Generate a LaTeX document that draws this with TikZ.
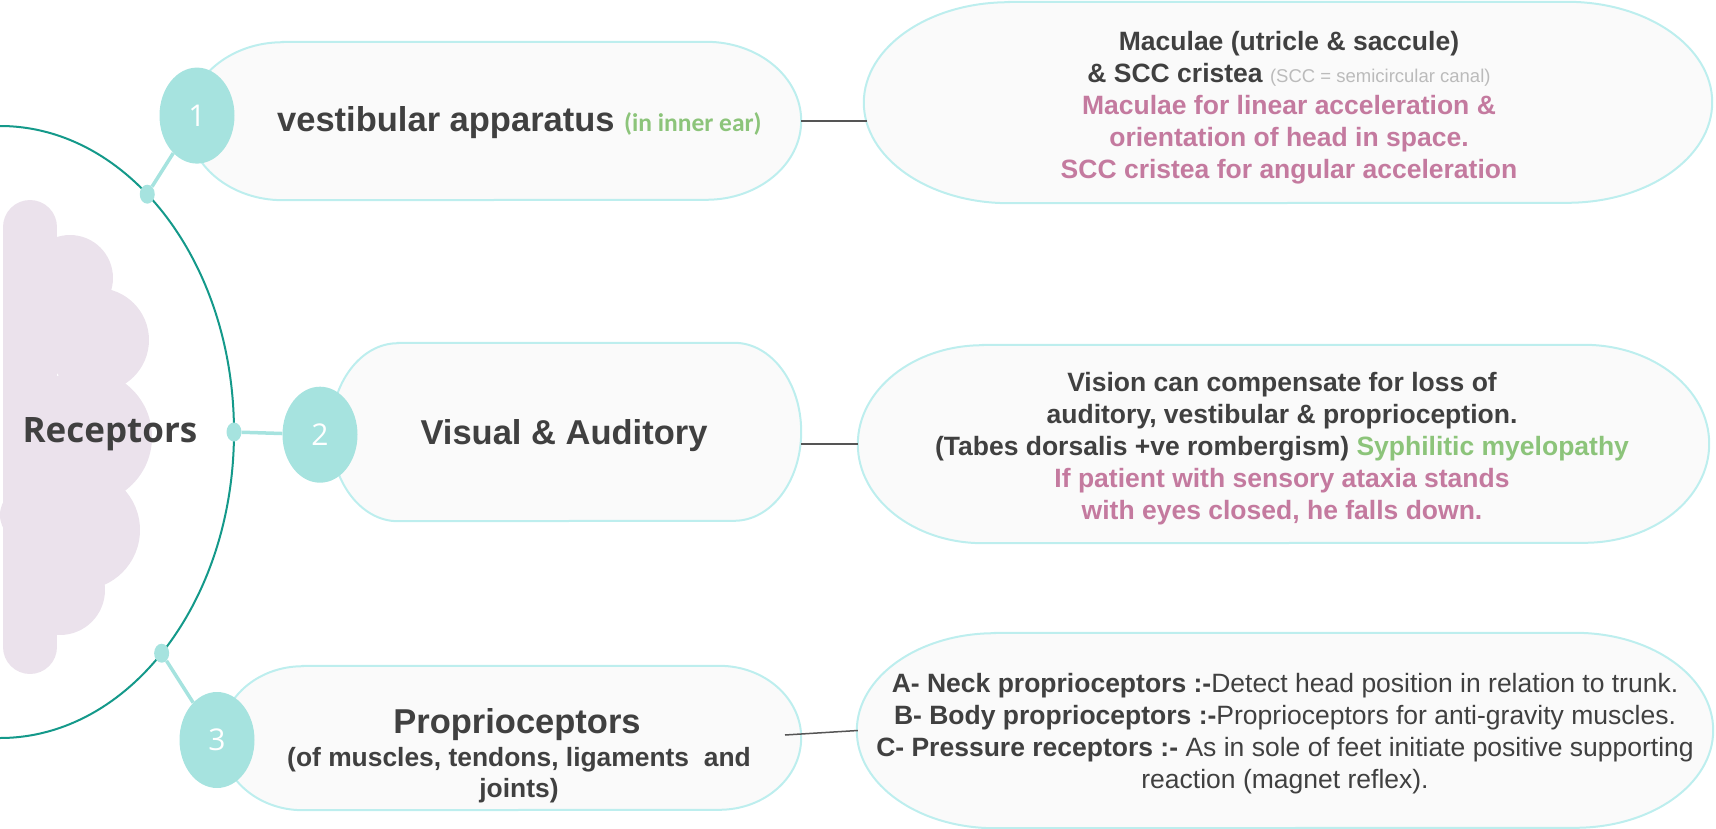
\documentclass[tikz,border=0pt]{standalone}
\usepackage{fontspec}
\setmainfont{Liberation Sans}
\newfontfamily\carlito{Carlito}
\newfontfamily\opensans{Open Sans}
\usetikzlibrary{shapes.geometric}
\definecolor{tealarc}{HTML}{14998A}
\definecolor{numfill}{HTML}{A6E3DF}
\definecolor{pillline}{HTML}{BDEEEE}
\definecolor{pillfill}{HTML}{FAFAFA}
\definecolor{txt}{HTML}{404040}
\definecolor{pinktxt}{HTML}{C47A9F}
\definecolor{greentxt}{HTML}{8CC47A}
\definecolor{graytxt}{HTML}{BBBBBB}
\definecolor{cloudc}{HTML}{EBE2EC}
\definecolor{linkc}{HTML}{555555}
\newcommand\pillshape[3]{%
  \filldraw[pillstyle] ([xshift=#2pt]#1.north west) -- ([xshift=-#2pt]#1.north east)
    arc[start angle=90,end angle=-90,x radius=#2pt,y radius=#3pt]
    -- ([xshift=#2pt]#1.south west)
    arc[start angle=270,end angle=90,x radius=#2pt,y radius=#3pt] -- cycle;}
\begin{document}
\begin{tikzpicture}[x=1pt,y=1pt,
  pillstyle/.style={draw=pillline, fill=pillfill, line width=2pt},
  pillbox/.style={rectangle, draw=none, inner sep=0pt},
  numcirc/.style={ellipse, fill=numfill, inner sep=0pt, minimum width=75pt, minimum height=96pt, text=white, font=\opensans\fontsize{30}{30}\selectfont},
  joindot/.style={ellipse, fill=numfill, inner sep=0pt, minimum width=15pt, minimum height=19pt},
  spoke/.style={draw=numfill, line width=3.5pt},
  link/.style={draw=linkc, line width=1.5pt},
  bigtxt/.style={text=txt, inner sep=0pt, font=\bfseries\fontsize{34.5}{40}\selectfont},
  bodytxt/.style={text=txt, inner sep=0pt, align=center, font=\bfseries\fontsize{26.5}{32}\selectfont},
  ]
\useasboundingbox (0,0) rectangle (1716,-829);
% cloud
\fill[cloudc] (3,-227) rectangle (57,-647);
\fill[cloudc] (30,-227) circle[radius=27pt];
\fill[cloudc] (30,-647) circle[radius=27pt];
\fill[cloudc] (70,-278) circle[radius=43pt];
\fill[cloudc] (97,-340) circle[radius=52pt];
\fill[cloudc] (85,-437) circle[radius=67pt];
\fill[cloudc] (80,-530) circle[radius=60pt];
\fill[cloudc] (60,-590) circle[radius=45pt];
\fill[cloudc] (28,-515) circle[radius=28pt];
\node[text=txt, inner sep=0pt, anchor=base, font=\opensans\bfseries\fontsize{35}{35}\selectfont] (rec) at (110,-442) {Receptors};
% arc
\draw[tealarc, line width=2pt] (0,-126) arc[start angle=90, end angle=-90, x radius=234pt, y radius=306pt];
% pills
\node[pillbox, minimum width=613pt, minimum height=158pt] (p1) at (494.5,-121) {};
\node[pillbox, minimum width=470pt, minimum height=178pt] (p2) at (566,-432) {};
\node[pillbox, minimum width=580pt, minimum height=144pt] (p3) at (511,-738) {};
\node[pillbox, minimum width=848pt, minimum height=201pt] (r1) at (1288,-102.5) {};
\node[pillbox, minimum width=851pt, minimum height=198pt] (r2) at (1283.5,-444) {};
\node[pillbox, minimum width=856pt, minimum height=195pt] (r3) at (1285,-730.5) {};
\pillshape{p1}{95}{79}
\pillshape{p2}{67}{89}
\pillshape{p3}{82}{72}
\pillshape{r1}{145}{100.5}
\pillshape{r2}{125}{99}
\pillshape{r3}{138}{97.5}
% left texts
\node[bigtxt, anchor=base west] (t1) at (277,-132) {vestibular apparatus {\carlito\bfseries\color{greentxt}\fontsize{25.5}{25.5}\selectfont (in inner ear)}};
\node[bigtxt, anchor=base] (t2) at (564,-444) {Visual \& Auditory};
\node[bigtxt, anchor=base] (t3) at (517,-733) {Proprioceptors};
\node[text=txt, inner sep=0pt, align=center, font=\bfseries\fontsize{26.4}{31}\selectfont] (t3b) at (519,-775.6) {(of muscles, tendons, ligaments~ and\\joints)};
% right texts
\node[bodytxt] (rt1) at (1289,-107.5) {Maculae (utricle \& saccule)\\\& SCC cristea {\mdseries\color{graytxt}\fontsize{18.5}{18.5}\selectfont (SCC = semicircular canal)}\\{\color{pinktxt}Maculae for linear acceleration \&}\\{\color{pinktxt}orientation of head in space.}\\{\color{pinktxt}SCC cristea for angular acceleration}};
\node[bodytxt] (rt2) at (1282,-448.7) {Vision can compensate for loss of\\auditory, vestibular \& proprioception.\\(Tabes dorsalis +ve rombergism) {\color{greentxt}Syphilitic myelopathy}\\{\color{pinktxt}If patient with sensory ataxia stands}\\{\color{pinktxt}with eyes closed, he falls down.}};
\node[bodytxt, font=\mdseries\fontsize{26.5}{32}\selectfont] (rt3) at (1285,-733.2) {\textbf{A- Neck proprioceptors :-}Detect head position in relation to trunk.\\\textbf{B- Body proprioceptors :-}Proprioceptors for anti-gravity muscles.\\\textbf{C- Pressure receptors :-} As in sole of feet initiate positive supporting\\reaction (magnet reflex).};
% links
\coordinate (l3s) at (785,-735);
\draw[link] (p1.east) -- ([xshift=3pt]p1.east -| r1.west);
\draw[link] (p2.east |- r2.west) -- (r2.west);
\draw[link] (l3s) -- ([xshift=1pt]r3.west);
% dots and number circles
\node[joindot] (d1) at ({234*cos(51)},{-432+306*sin(51)}) {};
\node[joindot] (d2) at (234,-432) {};
\node[joindot] (d3) at ({234*cos(-46.3)},{-432+306*sin(-46.3)}) {};
\node[numcirc] (n1) at (197,-115.6) {1};
\node[numcirc] (n2) at (320,-434.7) {2};
\node[numcirc] (n3) at (217,-740) {3};
\draw[spoke] (d1) -- (n1);
\draw[spoke] (d2) -- (n2);
\draw[spoke] (d3) -- (n3);
\end{tikzpicture}
\end{document}
